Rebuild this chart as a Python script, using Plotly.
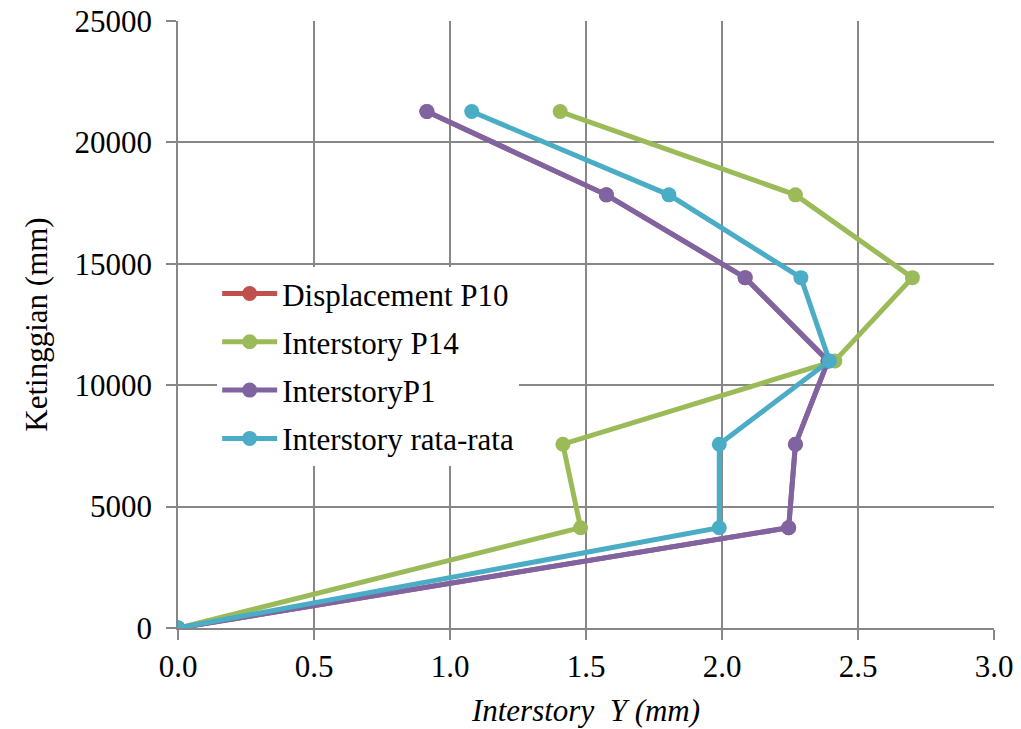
import plotly.graph_objects as go

# Floor elevations (mm) and interstory drift values (mm)
heights = [0, 4130, 7570, 11000, 14430, 17840, 21270]
displacement_p10 = [0, 2.245, 2.27, 2.39, 2.085, 1.575, 0.915]
interstory_p14 = [0, 1.48, 1.415, 2.415, 2.70, 2.27, 1.405]
interstory_p1 = [0, 2.245, 2.27, 2.39, 2.085, 1.575, 0.915]
interstory_avg = [0, 1.99, 1.99, 2.395, 2.29, 1.805, 1.08]

x_ticks = [0.0, 0.5, 1.0, 1.5, 2.0, 2.5, 3.0]
y_ticks = [0, 5000, 10000, 15000, 20000, 25000]

series = [
    ("Displacement P10", displacement_p10, "#C0504D"),
    ("Interstory P14", interstory_p14, "#9BBB59"),
    ("InterstoryP1", interstory_p1, "#8064A2"),
    ("Interstory rata-rata", interstory_avg, "#4BACC6"),
]

FONT = "Liberation Serif, Times New Roman, serif"
GRID = "#878787"
FS = 31

fig = go.Figure()
for i, (name, xs, color) in enumerate(series):
    fig.add_trace(go.Scatter(
        x=xs, y=heights, name=name, mode="lines+markers",
        line=dict(color=color, width=5),
        marker=dict(color=color, size=15),
        legendgroup=f"g{i}",
    ))

fig.update_layout(
    width=1021, height=729,
    margin=dict(l=178, r=27, t=21, b=101),
    paper_bgcolor="white", plot_bgcolor="white",
    font=dict(family=FONT, size=FS, color="black"),
    showlegend=True,
    legend=dict(
        x=0.048, y=0.595, xanchor="left", yanchor="top",
        bgcolor="white", borderwidth=0,
        font=dict(family=FONT, size=FS, color="black"),
        itemwidth=55, tracegroupgap=5,
    ),
    xaxis=dict(
        range=[0, 3.0], tickvals=x_ticks,
        ticktext=[f"{v:.1f}" for v in x_ticks],
        showgrid=True, gridcolor=GRID, gridwidth=1.5,
        showline=True, linecolor=GRID, linewidth=1.5, mirror=False,
        ticks="outside", ticklen=10, tickcolor=GRID, tickwidth=1.5,
        zeroline=False, automargin=False,
        title=dict(text="<i>Interstory  Y (mm)</i>", standoff=16,
                   font=dict(family=FONT, size=FS)),
    ),
    yaxis=dict(
        range=[0, 25000], tickvals=y_ticks,
        ticktext=[str(v) for v in y_ticks],
        showgrid=True, gridcolor=GRID, gridwidth=1.5,
        showline=True, linecolor=GRID, linewidth=1.5, mirror=False,
        ticks="outside", ticklen=10, tickcolor=GRID, tickwidth=1.5,
        ticklabelstandoff=8,
        zeroline=False, automargin=False,
        title=dict(text="Ketinggian (mm)", standoff=18,
                   font=dict(family=FONT, size=FS)),
    ),
)

fig.write_html("out.html")
